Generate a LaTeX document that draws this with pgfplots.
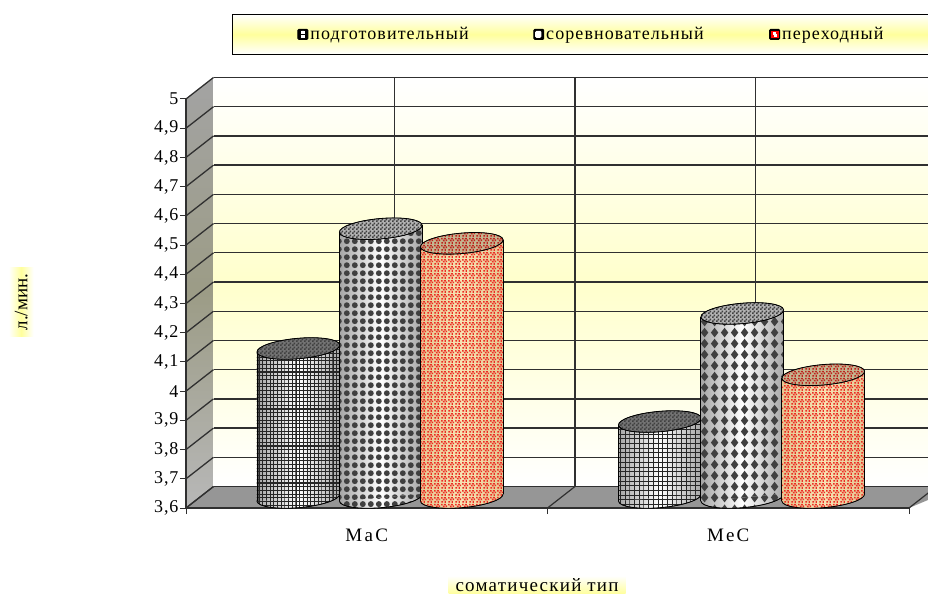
\documentclass[border=0pt]{standalone}
\usepackage{fontspec}
\setmainfont{Liberation Serif}
\usepackage{pgfplots}
\pgfplotsset{compat=1.18}
\usetikzlibrary{patterns}

\definecolor{gridink}{HTML}{303030}
\definecolor{dotink}{HTML}{404040}
\definecolor{floorgray}{HTML}{969696}
\definecolor{sidemid}{HTML}{9C9C86}
\definecolor{paleyellow}{HTML}{FFFFCC}
\definecolor{legendyellow}{HTML}{FFFF9C}
\definecolor{speckred}{HTML}{EC2C24}
\definecolor{speckcream}{HTML}{F6E4B4}

% Surface textures of the cylinders
\pgfdeclarepatternformonly{cylgridfine}{\pgfqpoint{-0.6pt}{-0.6pt}}{\pgfqpoint{4pt}{4pt}}{\pgfqpoint{3.7pt}{3.7pt}}{
  \pgfsetlinewidth{1.1pt}
  \pgfpathmoveto{\pgfqpoint{0pt}{0pt}}\pgfpathlineto{\pgfqpoint{3.7pt}{0pt}}
  \pgfpathmoveto{\pgfqpoint{0pt}{0pt}}\pgfpathlineto{\pgfqpoint{0pt}{3.7pt}}
  \pgfusepath{stroke}}
\pgfdeclarepatternformonly{cylgridwide}{\pgfqpoint{-0.5pt}{-0.5pt}}{\pgfqpoint{5pt}{5pt}}{\pgfqpoint{4.7pt}{4.7pt}}{
  \pgfsetlinewidth{1pt}
  \pgfpathmoveto{\pgfqpoint{0pt}{0pt}}\pgfpathlineto{\pgfqpoint{4.7pt}{0pt}}
  \pgfpathmoveto{\pgfqpoint{0pt}{0pt}}\pgfpathlineto{\pgfqpoint{0pt}{4.7pt}}
  \pgfusepath{stroke}}
\pgfdeclarepatternformonly{cyldots}{\pgfqpoint{0pt}{0pt}}{\pgfqpoint{7.8pt}{7.8pt}}{\pgfqpoint{7.8pt}{7.8pt}}{
  \pgfpathcircle{\pgfqpoint{3.9pt}{3.9pt}}{3pt}\pgfusepath{fill}}
\pgfdeclarepatternformonly{cyldiamonds}{\pgfqpoint{0pt}{0pt}}{\pgfqpoint{10pt}{11.4pt}}{\pgfqpoint{10pt}{11.4pt}}{
  \pgfpathmoveto{\pgfqpoint{5pt}{0.6pt}}\pgfpathlineto{\pgfqpoint{9pt}{5.7pt}}
  \pgfpathlineto{\pgfqpoint{5pt}{10.8pt}}\pgfpathlineto{\pgfqpoint{1pt}{5.7pt}}\pgfpathclose
  \pgfusepath{fill}}
\pgfdeclarepatternformonly{cylspeck}{\pgfqpoint{0pt}{0pt}}{\pgfqpoint{7pt}{7pt}}{\pgfqpoint{7pt}{7pt}}{
  \pgfpathrectangle{\pgfqpoint{0.3pt}{0.5pt}}{\pgfqpoint{2.2pt}{1.6pt}}
  \pgfpathrectangle{\pgfqpoint{4pt}{0.1pt}}{\pgfqpoint{1.6pt}{2.2pt}}
  \pgfpathrectangle{\pgfqpoint{2.1pt}{2.9pt}}{\pgfqpoint{2pt}{1.8pt}}
  \pgfpathrectangle{\pgfqpoint{5.2pt}{3.3pt}}{\pgfqpoint{1.6pt}{1.8pt}}
  \pgfpathrectangle{\pgfqpoint{0.1pt}{5.1pt}}{\pgfqpoint{1.8pt}{1.6pt}}
  \pgfpathrectangle{\pgfqpoint{3.3pt}{5.3pt}}{\pgfqpoint{2.2pt}{1.5pt}}
  \pgfusepath{fill}}
\pgfdeclarepatternformonly{capcheck}{\pgfqpoint{0pt}{0pt}}{\pgfqpoint{4pt}{4pt}}{\pgfqpoint{4pt}{4pt}}{
  \pgfpathrectangle{\pgfqpoint{0pt}{0pt}}{\pgfqpoint{2pt}{2pt}}
  \pgfpathrectangle{\pgfqpoint{2pt}{2pt}}{\pgfqpoint{2pt}{2pt}}
  \pgfusepath{fill}}

\tikzset{
  shell gray/.style={preaction={left color=black!35,right color=black!35,middle color=white}},
  shell red/.style={preaction={left color=speckcream!70!brown,right color=speckcream!70!brown,middle color=speckcream}},
  body fine/.style={shell gray,pattern=cylgridfine,pattern color=black!85},
  body wide/.style={shell gray,pattern=cylgridwide,pattern color=black!85},
  body dots/.style={shell gray,pattern=cyldots,pattern color=dotink},
  body diamonds/.style={shell gray,pattern=cyldiamonds,pattern color=dotink},
  body speck/.style={shell red,pattern=cylspeck,pattern color=speckred},
  cap dark/.style={preaction={fill=black!55},pattern=capcheck,pattern color=black!75},
  cap check/.style={preaction={fill=white!70!black},pattern=capcheck,pattern color=black!75},
  cap speck/.style={preaction={fill=speckcream!80!black},pattern=cylspeck,pattern color=speckred!80!black},
  ink/.style={draw=black,line width=0.8pt},
}

% Elliptical end of a cylinder, filled in the style chosen through its mark options
\pgfdeclareplotmark{cylend}{%
  \path[cyl surface,ink] (0pt,0pt) ellipse [x radius=41.5pt,y radius=10.2pt,rotate=5];}

\newcommand{\hw}{0.1145}  % half width of a cylinder in axis units
\newcommand{\tl}{0.0123}  % tilt of its ends in value units
\newcommand{\cylinder}[4]{%
  \pgfmathsetmacro{\xl}{#1-\hw}\pgfmathsetmacro{\xr}{#1+\hw}
  \pgfmathsetmacro{\bl}{3.6-\tl}\pgfmathsetmacro{\br}{3.6+\tl}
  \pgfmathsetmacro{\tL}{#2-\tl}\pgfmathsetmacro{\tR}{#2+\tl}
  \addplot[only marks,mark=cylend,mark options={/tikz/cyl surface/.style={#3}}] coordinates {(#1,3.6)};
  \addplot[draw=none,#3] coordinates {(\xl,\bl) (\xl,\tL) (\xr,\tR) (\xr,\br)} -- cycle;
  \addplot[ink] coordinates {(\xl,\bl) (\xl,\tL)};
  \addplot[ink] coordinates {(\xr,\br) (\xr,\tR)};
  \addplot[only marks,mark=cylend,mark options={/tikz/cyl surface/.style={#4}}] coordinates {(#1,#2)};
}

\newcommand{\tickfont}{\fontsize{18pt}{20pt}\selectfont\addfontfeatures{LetterSpace=5}}
\newcommand{\catfont}{\fontsize{19pt}{21pt}\selectfont\addfontfeatures{LetterSpace=12}}
\newcommand{\legfont}{\fontsize{18pt}{20pt}\selectfont\addfontfeatures{LetterSpace=6}}
\newcommand{\xtitlefont}{\fontsize{19pt}{21pt}\selectfont\addfontfeatures{LetterSpace=6.5}}
\newcommand{\ytitlefont}{\fontsize{19pt}{21pt}\selectfont}
\pgfplotsset{
  plane/.style={
    width=723pt,height=409pt,scale only axis,
    xmin=0,xmax=2,ymin=3.6,ymax=5,
    ytick={3.6,3.7,3.8,3.9,4,4.1,4.2,4.3,4.4,4.5,4.6,4.7,4.8,4.9,5},
  }
}

\begin{document}
\begin{tikzpicture}[x=1pt,y=1pt]
\clip (0,0) rectangle (928,594);

% Floor and side wall
\fill[floorgray] (186,86) -- (213.5,107.5) -- (960,107.5) -- (909,86) -- cycle;
\path[top color=black!36,bottom color=black!28,middle color=sidemid]
  (186,495) -- (213.5,516.5) -- (213.5,107.5) -- (186,86) -- cycle;
% Rear wall
\path[top color=white,bottom color=white,middle color=paleyellow]
  (213.5,107.5) rectangle (960,516.5);

% Gridlines of the rear wall
\begin{axis}[plane,at={(213.5pt,107.5pt)},anchor=south west,
  axis line style={draw=none},
  xtick={0.5,1,1.5},xticklabels={},yticklabels={},
  major tick length=0pt,
  grid=major,grid style={gridink,line width=1.3pt}]
\end{axis}
\foreach \i in {0,...,14} {
  \draw[gridink,line width=1.3pt] (186,86+\i*29.214) -- ++(27.5,21.5);
}
\foreach \x in {186,547.5,909} {
  \draw[gridink,line width=1.2pt] (\x,86) -- ++(27.5,21.5);
}

% Front plane with the tick labels, axis titles and legend
\begin{axis}[plane,at={(186pt,86pt)},anchor=south west,
  axis x line*=bottom,axis y line*=left,
  axis line style={gridink,line width=1.2pt,-},
  xtick={0,1,2},xticklabels={МаС,МеС,},
  x tick label as interval,
  tick align=outside,major tick length=6pt,
  tick style={gridink,line width=1pt},
  /pgf/number format/assume math mode=true,
  /pgf/number format/use comma,
  yticklabel style={font=\tickfont,black,xshift=2pt},
  xticklabel style={font=\catfont,black,yshift=-11pt},
  xlabel={соматический тип},
  ylabel={л./мин.},
  every axis x label/.style={at={(axis description cs:0.4855,-0.188)},anchor=center,font=\xtitlefont,
    inner xsep=7pt,inner ysep=2.5pt,top color=white,bottom color=legendyellow},
  every axis y label/.style={at={(axis description cs:-0.228,0.5037)},anchor=center,rotate=90,font=\ytitlefont,
    inner xsep=6pt,inner ysep=6pt,left color=white,right color=white,middle color=legendyellow},
  legend columns=3,
  legend cell align=left,
  legend style={at={(0.0636,1.2078)},anchor=north west,
    draw=black,line width=0.9pt,
    top color=white,bottom color=white,middle color=legendyellow,
    inner xsep=65pt,inner ysep=11pt,
    font=\legfont,
    /tikz/every even column/.append style={column sep=3pt},
  },
]
\addlegendimage{legend image code/.code={
  \fill[black,rounded corners=1pt] (0pt,-5pt) rectangle (10pt,5pt);
  \fill[white] (3.8pt,1pt) rectangle (6.2pt,3.4pt) (3.8pt,-3.4pt) rectangle (6.2pt,-1pt);}}
\addlegendentry{\makebox[218pt][l]{подготовительный}}
\addlegendimage{legend image code/.code={
  \fill[black,rounded corners=1pt] (0pt,-5pt) rectangle (10pt,5pt);
  \fill[white,rounded corners=1pt] (1.8pt,-3pt) rectangle (7.2pt,3pt);}}
\addlegendentry{\makebox[218pt][l]{соревновательный}}
\addlegendimage{legend image code/.code={
  \fill[black,rounded corners=1pt] (0pt,-5pt) rectangle (10pt,5pt);
  \fill[red] (1.6pt,-3pt) rectangle (8.4pt,3pt);
  \fill[white] (3.4pt,0pt) rectangle (5.4pt,1.8pt) (4.6pt,-2.2pt) rectangle (6.6pt,-0.4pt);}}
\addlegendentry{\makebox[80pt][l]{переходный}}
\end{axis}

% Cylinders stand halfway between the front plane and the rear wall
\begin{axis}[plane,at={(200pt,96.5pt)},anchor=south west,clip=false,clip mode=individual,hide axis]
\cylinder{0.272}{4.11}{body fine}{cap dark}
\cylinder{0.500}{4.52}{body dots}{cap check}
\cylinder{0.724}{4.47}{body speck}{cap speck}
\cylinder{1.272}{3.86}{body wide}{cap dark}
\cylinder{1.500}{4.23}{body diamonds}{cap check}
\cylinder{1.724}{4.02}{body speck}{cap speck}
\end{axis}
\end{tikzpicture}
\end{document}
